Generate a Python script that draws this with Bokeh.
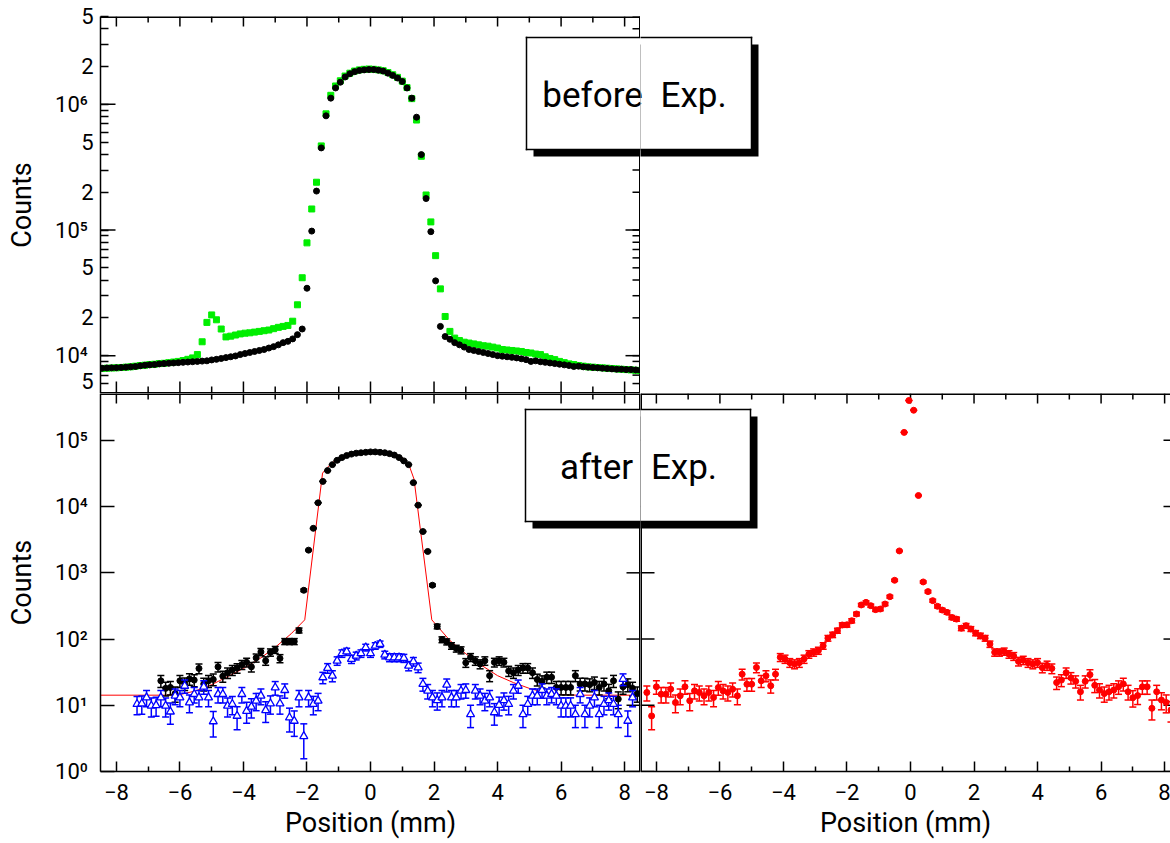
import numpy as np
from bokeh.plotting import figure
from bokeh.layouts import row, column
from bokeh.models import (Range1d, LogAxis, LinearAxis, FixedTicker,
                          CustomJSTickFormatter, BoxAnnotation, Label)
from bokeh.embed import file_html
from bokeh.resources import INLINE

FONT = "Roboto"

# ---------------- data ----------------
# top panel ("before Exp."), channel positions every 0.15 mm
top_x = [round(-8.45 + 0.15 * i, 2) for i in range(114)]
top_black = [
    7950, 7980, 8000, 8020, 8050, 8100, 8150, 8200, 8300, 8400,
    8450, 8500, 8600, 8650, 8700, 8750, 8800, 8850, 8900, 8950,
    9000, 9050, 9100, 9250, 9350, 9500, 9650, 9800, 9950, 10200,
    10400, 10600, 10800, 11000, 11200, 11500, 11800, 12200, 12700, 13000,
    13600, 14700, 16300, 34400, 98000, 204000, 450000, 810000, 1120000, 1350000,
    1500000, 1650000, 1750000, 1820000, 1860000, 1880000, 1890000, 1890000, 1870000, 1840000,
    1770000, 1700000, 1620000, 1520000, 1350000, 1120000, 790000, 398000, 178000, 97000,
    39400, 17100, 14200, 13500, 12700, 12200, 11700, 11200, 11000, 10800,
    10600, 10400, 10200, 10000, 9900, 9800, 9700, 9600, 9450, 9300,
    9000, 9100, 8950, 8850, 8750, 8650, 8550, 8450, 8350, 8200,
    8250, 8150, 8100, 8050, 8000, 7950, 7900, 7850, 7800, 7800,
    7750, 7750, 7700, 7650]
top_green = [
    7900, 7950, 7980, 8000, 8050, 8100, 8150, 8250, 8350, 8400,
    8500, 8550, 8650, 8700, 8800, 8900, 9000, 9150, 9350, 9600,
    10200, 12900, 18400, 21100, 19300, 16300, 14100, 14300, 14600, 14900,
    15100, 15200, 15400, 15600, 15800, 16000, 16400, 16800, 17100, 17400,
    18800, 25400, 41700, 79000, 147000, 240000, 467000, 840000, 1180000, 1400000,
    1540000, 1680000, 1770000, 1840000, 1880000, 1900000, 1910000, 1900000, 1880000, 1850000,
    1790000, 1720000, 1640000, 1530000, 1360000, 1110000, 750000, 386000, 190000, 116000,
    62500, 34000, 20500, 15600, 13800, 13200, 12800, 12600, 12400, 12200,
    12000, 11900, 11700, 11500, 11200, 11100, 11000, 10900, 10800, 10600,
    10500, 10300, 10200, 9800, 9500, 9300, 9000, 8800, 8600, 8500,
    8350, 8250, 8150, 8100, 8050, 8000, 7950, 7900, 7850, 7800,
    7750, 7700, 7650, 7600]

# bottom-left panel ("after Exp.")
bot_black_x = [round(0.15 * k, 2) for k in range(-44, 57)]
bot_black = [
    23.4, 18, 18.6, 15, 23.4, 21.3, 25, 24, 36, 21,
    23.4, 24.6, 38, 27.5, 31, 34, 36.5, 41, 44.5, 38,
    52, 64, 47, 63, 69, 51, 92, 92, 92, 135,
    545, 2200, 4700, 11400, 24000, 35000, 43000, 50000, 55000, 59000,
    62000, 64000, 65000, 66000, 67000, 67000, 66000, 65000, 63000, 60000,
    55000, 49000, 43000, 23000, 10500, 4200, 2100, 650, 155, 98,
    91, 79, 72, 68, 44, 53, 47, 42, 47, 28,
    44.5, 47, 44.5, 33, 31, 34, 36.5, 36.5, 31, 24.5,
    23, 26.5, 26.5, 18.6, 18.6, 18.6, 18.6, 28, 21, 21,
    20.5, 22, 18.6, 21, 16.6, 23.4, 12.4, 19, 20.5, 18, 15]
bot_blue_x = [round(0.15 * k, 2) for k in range(-49, 56)]
bot_blue = [
    10.4, 10.6, 13.1, 9.8, 10.0, 13.1, 9.8, 8.0, 13.9, 13.1,
    19.6, 11.0, 14.7, 13.1, 19.0, 13.1, 5.7, 14.7, 14.7, 9.8,
    10.4, 6.9, 14.7, 8.2, 9.5, 11.7, 13.9, 8.4, 10.6, 18.5,
    10.6, 16.9, 6.5, 5.8, 13.1, 3.4, 13.1, 10.4, 11.7, 26.3,
    36.5, 27.9, 47, 60.7, 64.6, 49.8, 55.9, 60.7, 74.7, 60.7,
    79, 84, 57.8, 52.7, 52.7, 52.7, 51.5, 39.4, 45.8, 37.2,
    20.9, 16.5, 13.1, 11.9, 13.1, 20.4, 13.1, 13.1, 16.5, 16.9,
    7.3, 16.5, 13.9, 11.7, 13.1, 7.8, 10.1, 11.9, 10.4, 16.5,
    19.6, 7.3, 10.4, 13.9, 13.9, 16.9, 13.9, 14.7, 13.9, 9.8,
    9.8, 9.8, 7.3, 14.7, 7.3, 9.8, 13.1, 7.3, 10.4, 11.9,
    10.4, 7.3, 24.8, 5.8, 13.1]
fit_x = [-8.5, -6.5, -6.0, -5.5, -5.0, -4.5, -4.0, -3.5, -3.0, -2.5, -2.07,
         -1.51, -1.36, -1.2, -0.95, -0.5, 0.0, 0.5, 0.95, 1.2, 1.37, 1.93,
         2.5, 3.0, 3.5, 4.0, 4.5, 5.0, 5.5, 6.0, 6.5, 8.5]
fit_y = [14.2, 14.2, 14.5, 16.5, 20.5, 27, 36, 50, 75, 120, 195,
         32000, 39000, 46000, 56000, 65000, 67000, 66000, 58000, 44000, 26000, 195,
         95, 60, 40, 28, 22, 18, 15.5, 14.5, 14.2, 14.2]

# bottom-right panel (red)
red_x = [round(0.15 * k - 0.05, 2) for k in range(-55, 56)]
red_y = [
    15.6, 6.9, 19, 14.7, 14.7, 17.5, 11, 13.9, 19, 11.7,
    16.5, 15.6, 13.9, 15.6, 13.1, 18.5, 16.5, 15.6, 17.5, 13.9,
    29.5, 20.8, 20.8, 37.2, 23.4, 27.9, 19.7, 29.5, 53, 50,
    44, 42, 44, 50, 59, 63, 67, 79, 103, 116,
    134, 163, 164, 189, 239, 327, 358, 319, 278, 284,
    338, 436, 771, 2140, 132000, 400000, 285000, 14700, 728, 520,
    380, 312, 274, 253, 212, 200, 146, 159, 142, 123,
    112, 103, 84, 63, 63, 65, 59, 55, 46, 48,
    44, 42, 44, 37, 40, 36, 22, 24, 31, 26,
    23, 16, 23, 29, 20, 17, 15, 16, 17, 19,
    21, 16, 13, 14, 19, 19, 9, 16, 12, 11, 8.5]

# ticks
x_major = [-8, -6, -4, -2, 0, 2, 4, 6, 8]
x_minor = [-7, -5, -3, -1, 1, 3, 5, 7]
top_y_labeled = [5e3, 1e4, 2e4, 5e4, 1e5, 2e5, 5e5, 1e6, 2e6, 5e6]
top_y_minor = [6e3, 7e3, 8e3, 9e3, 3e4, 4e4, 6e4, 7e4, 8e4, 9e4,
               3e5, 4e5, 6e5, 7e5, 8e5, 9e5, 3e6, 4e6]
top_decades = [1e4, 1e5, 1e6]
bot_decades = [1, 10, 100, 1e3, 1e4, 1e5]

texts = {"before": "before\u2002Exp.", "after": "after\u2002Exp."}

# ---------------- helpers ----------------
LOG_FMT = """
const sup = {"0":"\u2070","1":"\u00b9","2":"\u00b2","3":"\u00b3","4":"\u2074",
             "5":"\u2075","6":"\u2076","7":"\u2077","8":"\u2078","9":"\u2079"};
const e = Math.floor(Math.log10(tick) + 1e-9);
const m = Math.round(tick / Math.pow(10, e));
if (m === 1) { return "10" + String(e).split("").map(c => sup[c]).join("") + "\u2005"; }
return String(m);
"""
LW = 1.5


def base_fig(w, h, xr, yr, ylog, bl, br, bt, bb):
    p = figure(width=w, height=h, x_range=xr, y_range=yr,
               y_axis_type="log" if ylog else "linear",
               x_axis_location=None, y_axis_location=None, title=None,
               toolbar_location=None, output_backend="svg",
               min_border_left=bl, min_border_right=br,
               min_border_top=bt, min_border_bottom=bb)
    p.xgrid.visible = False
    p.ygrid.visible = False
    p.outline_line_color = None
    return p


def style_axis(ax, tin, tmin):
    ax.axis_line_width = LW
    ax.axis_line_color = "black"
    ax.major_tick_in = tin
    ax.major_tick_out = 0
    ax.minor_tick_in = tmin
    ax.minor_tick_out = 0
    ax.major_tick_line_width = LW
    ax.minor_tick_line_width = LW
    ax.major_label_text_font = FONT
    ax.major_label_text_font_size = "22px"
    ax.major_label_text_color = "black"
    ax.axis_label_text_font = FONT
    ax.axis_label_text_font_style = "normal"
    ax.axis_label_text_color = "black"


def left_log_axis(p, ticks, minor, tin):
    ax = LogAxis(ticker=FixedTicker(ticks=ticks, minor_ticks=minor),
                 formatter=CustomJSTickFormatter(code=LOG_FMT))
    style_axis(ax, tin, 8)
    ax.major_label_standoff = 7
    ax.axis_label = "Counts"
    ax.axis_label_text_font_size = "27px"
    ax.axis_label_standoff = 14
    p.add_layout(ax, "left")


def bottom_axis(p):
    ax = LinearAxis(ticker=FixedTicker(ticks=x_major, minor_ticks=x_minor))
    style_axis(ax, 10, 5)
    ax.major_label_standoff = 12
    ax.axis_label = "Position (mm)"
    ax.axis_label_text_font_size = "27px"
    ax.axis_label_standoff = 4
    p.add_layout(ax, "below")


def ticks_rays(p, xs=None, ys=None, x0=None, y0=None, length=8, angle=0.0):
    if xs is None:
        xs = [x0] * len(ys)
    if ys is None:
        ys = [y0] * len(xs)
    p.ray(x=xs, y=ys, length=length, angle=angle, length_units="screen",
          line_color="black", line_width=LW)


def vline(p, xr, yr, at, width=3):
    p.segment(x0=[at], y0=[yr.start], x1=[at], y1=[yr.end],
              line_color="black", line_width=width)


def hline(p, xr, yr, at, width=3):
    p.segment(x0=[xr.start], y0=[at], x1=[xr.end], y1=[at],
              line_color="black", line_width=width)


def screen_rect(p, fx, fy, l, t, r, b, color):
    # page pixel rectangle -> frame-relative screen units (y up from frame bottom)
    p.add_layout(BoxAnnotation(left=l - fx, right=r - fx, top=fy - t, bottom=fy - b,
                               left_units="screen", right_units="screen",
                               top_units="screen", bottom_units="screen",
                               fill_color=color, fill_alpha=1.0,
                               line_color=None, level="overlay"))


def add_box(p, fx, fy, box, shadow, text, tx, tmid):
    L, T, R, B = box
    d = shadow
    h = LW / 2
    screen_rect(p, fx, fy, L + d, T + d, R + d, B + d, "black")   # shadow
    screen_rect(p, fx, fy, L, T, R, B, "white")                   # box body
    screen_rect(p, fx, fy, L - h, T - h, R + h, T + h, "black")   # top edge
    screen_rect(p, fx, fy, L - h, B - h, R + h, B + h, "black")   # bottom edge
    screen_rect(p, fx, fy, L - h, T - h, L + h, B + h, "black")   # left edge
    screen_rect(p, fx, fy, R - h, T - h, R + h, B + h, "black")   # right edge
    p.add_layout(Label(x=tx - fx, y=fy - tmid, x_units="screen", y_units="screen",
                       text=text, text_align="center", text_baseline="middle",
                       text_font=FONT, text_font_size="35px", text_color="black",
                       level="overlay"))


def err_bars(p, xs, ys, color):
    ys = np.asarray(ys, dtype=float)
    e = np.sqrt(ys)
    lo, hi = ys - e, ys + e
    p.segment(x0=xs, y0=lo, x1=xs, y1=hi, line_color=color, line_width=LW)
    p.scatter(xs, lo, marker="dash", size=7, line_color=color, line_width=LW)
    p.scatter(xs, hi, marker="dash", size=7, line_color=color, line_width=LW)


HALF_PI = np.pi / 2

# ---------------- top-left panel ----------------
xrA = Range1d(-8.5, 8.5)
yrA = Range1d(5e3, 5e6)
pA = base_fig(640, 393, xrA, yrA, True, 100, 0, 16, 0)
left_log_axis(pA, top_y_labeled, top_y_minor, 8)
vline(pA, xrA, yrA, xrA.end)
hline(pA, xrA, yrA, yrA.end)
hline(pA, xrA, yrA, yrA.start)
ticks_rays(pA, ys=top_decades, x0=xrA.start, length=15, angle=0.0)
ticks_rays(pA, ys=top_y_labeled + top_y_minor, x0=xrA.end, length=8, angle=np.pi)
ticks_rays(pA, ys=top_decades, x0=xrA.end, length=15, angle=np.pi)
ticks_rays(pA, xs=x_major, y0=yrA.start, length=12, angle=HALF_PI)
ticks_rays(pA, xs=x_minor, y0=yrA.start, length=7, angle=HALF_PI)
ticks_rays(pA, xs=x_major, y0=yrA.end, length=10, angle=-HALF_PI)
ticks_rays(pA, xs=x_minor, y0=yrA.end, length=6, angle=-HALF_PI)
pA.scatter(top_x, top_green, marker="square", size=6, color="#00ee00")
pA.scatter(top_x, top_black, marker="circle", size=6, color="black")
BEFORE_BOX = (526, 37, 751, 149)
add_box(pA, 100, 393, BEFORE_BOX, 7, texts["before"], 634, 95)

# top-right (empty, only the spill of the label box)
pA2 = base_fig(530, 393, Range1d(0, 1), Range1d(0, 1), False, 0, 0, 0, 0)
add_box(pA2, 640, 393, BEFORE_BOX, 7, texts["before"], 634, 95)

# ---------------- bottom-left panel ----------------
xrB = Range1d(-8.5, 8.5)
yrB = Range1d(1, 5.1e5)
pB = base_fig(640, 450, xrB, yrB, True, 100, 0, 0, 72)
left_log_axis(pB, bot_decades, [], 14)
bottom_axis(pB)
vline(pB, xrB, yrB, xrB.end)
hline(pB, xrB, yrB, yrB.end)
ticks_rays(pB, ys=bot_decades, x0=xrB.end, length=14, angle=np.pi)
ticks_rays(pB, xs=x_major, y0=yrB.end, length=10, angle=-HALF_PI)
ticks_rays(pB, xs=x_minor, y0=yrB.end, length=6, angle=-HALF_PI)
pB.line(fit_x, fit_y, line_color="red", line_width=1)
err_bars(pB, bot_black_x, bot_black, "black")
pB.scatter(bot_black_x, bot_black, marker="circle", size=6, color="black")
err_bars(pB, bot_blue_x, bot_blue, "blue")
pB.scatter(bot_blue_x, bot_blue, marker="triangle", size=8, fill_color="white",
           line_color="blue", line_width=1.3)
AFTER_BOX = (525, 409, 750, 521)
add_box(pB, 100, 771, AFTER_BOX, 7, texts["after"], 638, 467)

# ---------------- bottom-right panel ----------------
xrC = Range1d(-8.5, -8.5 + 530 / (540 / 17.0))
yrC = Range1d(1, 5.1e5)
pC = base_fig(530, 450, xrC, yrC, True, 0, 0, 0, 72)
bottom_axis(pC)
vline(pC, xrC, yrC, xrC.start)
hline(pC, xrC, yrC, yrC.end)
ticks_rays(pC, ys=bot_decades, x0=xrC.start, length=14, angle=0.0)
ticks_rays(pC, ys=bot_decades, x0=xrC.end, length=7, angle=np.pi)
ticks_rays(pC, xs=x_major, y0=yrC.end, length=10, angle=-HALF_PI)
ticks_rays(pC, xs=x_minor, y0=yrC.end, length=6, angle=-HALF_PI)
err_bars(pC, red_x, red_y, "red")
pC.scatter(red_x, red_y, marker="circle", size=6, color="red")
add_box(pC, 640, 771, AFTER_BOX, 7, texts["after"], 638, 467)

layout = column(row(pA, pA2), row(pB, pC))
open("out.html", "w").write(file_html(layout, INLINE))
